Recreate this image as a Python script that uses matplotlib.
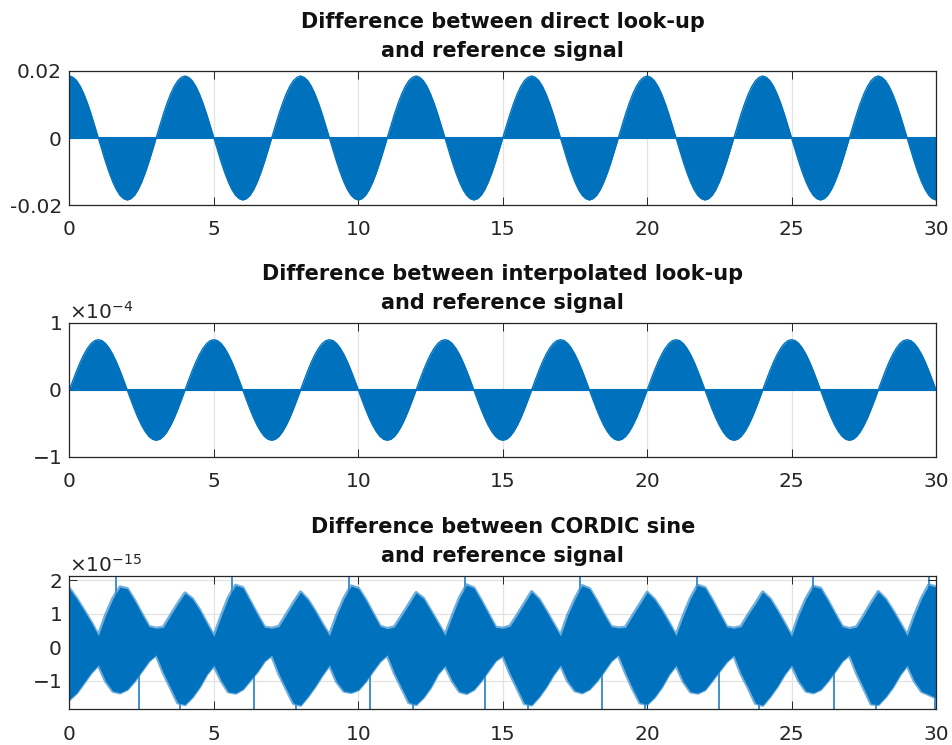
import numpy as np
import matplotlib.pyplot as plt

plt.rcParams['font.family'] = 'DejaVu Sans'
plt.rcParams['axes.unicode_minus'] = False

BLUE = '#0072BD'
EDGE = '#3f92d1'
TXT = '#262626'
GRID = '#e3e3e3'

# look-up errors, every 0.125 along x (0..30)
t_fine = np.arange(241) * 0.125
diff_direct = [
    0.0185, 0.0181, 0.0171, 0.0154, 0.0131, 0.0103, 0.0071, 0.0036, 0.0000, -0.0036, -0.0071, -0.0103, -0.0131, -0.0154, -0.0171, -0.0181,
    -0.0185, -0.0181, -0.0171, -0.0154, -0.0131, -0.0103, -0.0071, -0.0036, 0.0000, 0.0036, 0.0071, 0.0103, 0.0131, 0.0154, 0.0171, 0.0181,
    0.0185, 0.0181, 0.0171, 0.0154, 0.0131, 0.0103, 0.0071, 0.0036, 0.0000, -0.0036, -0.0071, -0.0103, -0.0131, -0.0154, -0.0171, -0.0181,
    -0.0185, -0.0181, -0.0171, -0.0154, -0.0131, -0.0103, -0.0071, -0.0036, 0.0000, 0.0036, 0.0071, 0.0103, 0.0131, 0.0154, 0.0171, 0.0181,
    0.0185, 0.0181, 0.0171, 0.0154, 0.0131, 0.0103, 0.0071, 0.0036, 0.0000, -0.0036, -0.0071, -0.0103, -0.0131, -0.0154, -0.0171, -0.0181,
    -0.0185, -0.0181, -0.0171, -0.0154, -0.0131, -0.0103, -0.0071, -0.0036, 0.0000, 0.0036, 0.0071, 0.0103, 0.0131, 0.0154, 0.0171, 0.0181,
    0.0185, 0.0181, 0.0171, 0.0154, 0.0131, 0.0103, 0.0071, 0.0036, 0.0000, -0.0036, -0.0071, -0.0103, -0.0131, -0.0154, -0.0171, -0.0181,
    -0.0185, -0.0181, -0.0171, -0.0154, -0.0131, -0.0103, -0.0071, -0.0036, 0.0000, 0.0036, 0.0071, 0.0103, 0.0131, 0.0154, 0.0171, 0.0181,
    0.0185, 0.0181, 0.0171, 0.0154, 0.0131, 0.0103, 0.0071, 0.0036, 0.0000, -0.0036, -0.0071, -0.0103, -0.0131, -0.0154, -0.0171, -0.0181,
    -0.0185, -0.0181, -0.0171, -0.0154, -0.0131, -0.0103, -0.0071, -0.0036, 0.0000, 0.0036, 0.0071, 0.0103, 0.0131, 0.0154, 0.0171, 0.0181,
    0.0185, 0.0181, 0.0171, 0.0154, 0.0131, 0.0103, 0.0071, 0.0036, 0.0000, -0.0036, -0.0071, -0.0103, -0.0131, -0.0154, -0.0171, -0.0181,
    -0.0185, -0.0181, -0.0171, -0.0154, -0.0131, -0.0103, -0.0071, -0.0036, 0.0000, 0.0036, 0.0071, 0.0103, 0.0131, 0.0154, 0.0171, 0.0181,
    0.0185, 0.0181, 0.0171, 0.0154, 0.0131, 0.0103, 0.0071, 0.0036, 0.0000, -0.0036, -0.0071, -0.0103, -0.0131, -0.0154, -0.0171, -0.0181,
    -0.0185, -0.0181, -0.0171, -0.0154, -0.0131, -0.0103, -0.0071, -0.0036, 0.0000, 0.0036, 0.0071, 0.0103, 0.0131, 0.0154, 0.0171, 0.0181,
    0.0185, 0.0181, 0.0171, 0.0154, 0.0131, 0.0103, 0.0071, 0.0036, 0.0000, -0.0036, -0.0071, -0.0103, -0.0131, -0.0154, -0.0171, -0.0181,
    -0.0185,
]
# in units of 1e-4
diff_interp = [
    0.000, 0.146, 0.287, 0.417, 0.530, 0.623, 0.693, 0.736, 0.750, 0.736, 0.693, 0.623, 0.530, 0.417, 0.287, 0.146,
    0.000, -0.146, -0.287, -0.417, -0.530, -0.623, -0.693, -0.736, -0.750, -0.736, -0.693, -0.623, -0.530, -0.417, -0.287, -0.146,
    0.000, 0.146, 0.287, 0.417, 0.530, 0.623, 0.693, 0.736, 0.750, 0.736, 0.693, 0.623, 0.530, 0.417, 0.287, 0.146,
    0.000, -0.146, -0.287, -0.417, -0.530, -0.623, -0.693, -0.736, -0.750, -0.736, -0.693, -0.623, -0.530, -0.417, -0.287, -0.146,
    0.000, 0.146, 0.287, 0.417, 0.530, 0.623, 0.693, 0.736, 0.750, 0.736, 0.693, 0.623, 0.530, 0.417, 0.287, 0.146,
    0.000, -0.146, -0.287, -0.417, -0.530, -0.623, -0.693, -0.736, -0.750, -0.736, -0.693, -0.623, -0.530, -0.417, -0.287, -0.146,
    0.000, 0.146, 0.287, 0.417, 0.530, 0.623, 0.693, 0.736, 0.750, 0.736, 0.693, 0.623, 0.530, 0.417, 0.287, 0.146,
    0.000, -0.146, -0.287, -0.417, -0.530, -0.623, -0.693, -0.736, -0.750, -0.736, -0.693, -0.623, -0.530, -0.417, -0.287, -0.146,
    0.000, 0.146, 0.287, 0.417, 0.530, 0.623, 0.693, 0.736, 0.750, 0.736, 0.693, 0.623, 0.530, 0.417, 0.287, 0.146,
    0.000, -0.146, -0.287, -0.417, -0.530, -0.623, -0.693, -0.736, -0.750, -0.736, -0.693, -0.623, -0.530, -0.417, -0.287, -0.146,
    0.000, 0.146, 0.287, 0.417, 0.530, 0.623, 0.693, 0.736, 0.750, 0.736, 0.693, 0.623, 0.530, 0.417, 0.287, 0.146,
    0.000, -0.146, -0.287, -0.417, -0.530, -0.623, -0.693, -0.736, -0.750, -0.736, -0.693, -0.623, -0.530, -0.417, -0.287, -0.146,
    0.000, 0.146, 0.287, 0.417, 0.530, 0.623, 0.693, 0.736, 0.750, 0.736, 0.693, 0.623, 0.530, 0.417, 0.287, 0.146,
    0.000, -0.146, -0.287, -0.417, -0.530, -0.623, -0.693, -0.736, -0.750, -0.736, -0.693, -0.623, -0.530, -0.417, -0.287, -0.146,
    0.000, 0.146, 0.287, 0.417, 0.530, 0.623, 0.693, 0.736, 0.750, 0.736, 0.693, 0.623, 0.530, 0.417, 0.287, 0.146,
    0.000,
]

# CORDIC error (units of 1e-15): upper/lower envelope read every 0.25
t_env = np.arange(121) * 0.25
cordic_upper = [
    1.75, 1.45, 1.10, 0.75, 0.35, 0.95, 1.45, 1.80, 1.75, 1.40, 1.00, 0.62, 0.57, 0.60, 0.95, 1.30,
    1.62, 1.45, 1.12, 0.72, 0.33, 0.92, 1.48, 1.85, 1.78, 1.38, 0.98, 0.60, 0.57, 0.62, 0.97, 1.32,
    1.65, 1.42, 1.08, 0.70, 0.35, 0.95, 1.45, 1.83, 1.76, 1.42, 1.02, 0.63, 0.56, 0.61, 0.94, 1.28,
    1.63, 1.46, 1.10, 0.73, 0.36, 0.93, 1.47, 1.86, 1.77, 1.40, 1.00, 0.60, 0.57, 0.63, 0.96, 1.31,
    1.66, 1.44, 1.09, 0.71, 0.34, 0.96, 1.44, 1.84, 1.75, 1.39, 0.99, 0.62, 0.58, 0.60, 0.95, 1.29,
    1.64, 1.43, 1.11, 0.74, 0.35, 0.94, 1.46, 1.85, 1.78, 1.41, 1.01, 0.61, 0.57, 0.62, 0.98, 1.30,
    1.65, 1.45, 1.10, 0.72, 0.33, 0.95, 1.45, 1.82, 1.76, 1.40, 1.00, 0.62, 0.56, 0.61, 0.95, 1.32,
    1.66, 1.44, 1.10, 0.73, 0.35, 0.94, 1.46, 1.86, 1.80,
]
cordic_lower = [
    -1.55, -1.35, -1.05, -0.75, -0.52, -1.00, -1.30, -1.35, -1.25, -1.00, -0.70, -0.40, -0.22, -0.75, -1.20, -1.65,
    -1.70, -1.48, -1.18, -0.80, -0.53, -0.98, -1.32, -1.36, -1.24, -0.98, -0.72, -0.40, -0.23, -0.78, -1.22, -1.66,
    -1.72, -1.46, -1.16, -0.82, -0.52, -1.02, -1.30, -1.34, -1.26, -1.01, -0.70, -0.41, -0.22, -0.76, -1.20, -1.64,
    -1.70, -1.49, -1.19, -0.79, -0.54, -0.99, -1.31, -1.37, -1.25, -0.99, -0.69, -0.39, -0.24, -0.77, -1.21, -1.67,
    -1.71, -1.47, -1.17, -0.81, -0.52, -1.00, -1.29, -1.35, -1.24, -1.00, -0.71, -0.40, -0.22, -0.75, -1.23, -1.65,
    -1.69, -1.48, -1.18, -0.80, -0.53, -1.01, -1.32, -1.36, -1.26, -0.98, -0.70, -0.42, -0.23, -0.78, -1.20, -1.66,
    -1.72, -1.46, -1.16, -0.80, -0.52, -0.99, -1.30, -1.35, -1.25, -1.00, -0.71, -0.40, -0.22, -0.76, -1.22, -1.68,
    -1.70, -1.47, -1.18, -0.81, -0.53, -1.00, -1.31, -1.40, -1.50,
]
# isolated single-sample spikes
spike_up_t = [1.62, 5.64, 9.67, 13.68, 17.69, 21.72, 25.74, 29.77]
spike_up_v = [2.14, 2.14, 2.14, 2.14, 2.14, 2.14, 2.14, 2.14]
spike_dn_t = [2.40, 3.84, 6.39, 7.84, 10.42, 11.89, 14.40, 15.88, 18.42, 19.93, 22.48, 23.87, 26.47, 27.92, 29.98]
spike_dn_v = [-1.85, -1.85, -1.85, -1.85, -1.85, -1.85, -1.85, -1.85, -1.85, -1.85, -1.85, -1.85, -1.85, -1.85, -1.85]

titles = ['Difference between direct look-up\nand reference signal',
          'Difference between interpolated look-up\nand reference signal',
          'Difference between CORDIC sine\nand reference signal']
xticks = [0, 5, 10, 15, 20, 25, 30]


def style(ax, ylim, yticks, title):
    ax.set_xlim(0, 30)
    ax.set_ylim(*ylim)
    ax.set_xticks(xticks)
    ax.set_yticks(yticks)
    for v in xticks:
        ax.axvline(v, color=GRID, lw=0.9, zorder=0)
    for v in yticks:
        ax.axhline(v, color=GRID, lw=0.9, zorder=0)
    ax.tick_params(direction='in', top=True, right=True, length=6, width=0.7,
                   colors=TXT, labelsize=14.5)
    ax.tick_params(axis='x', pad=11)
    ax.tick_params(axis='y', pad=5.5)
    for s in ax.spines.values():
        s.set_color(TXT)
        s.set_linewidth(0.9)
    ax.set_title(title, fontsize=15, fontweight='bold', color='#111111',
                 pad=10, y=1.0, linespacing=1.55)


fig = plt.figure(figsize=(9.53, 7.45), dpi=100)
ax1 = fig.add_axes([0.0729, 0.7248, 0.9093, 0.1799])
ax2 = fig.add_axes([0.0729, 0.3866, 0.9093, 0.1799])
ax3 = fig.add_axes([0.0729, 0.0477, 0.9093, 0.1796])

# direct look-up
y1 = np.array(diff_direct)
ax1.fill_between(t_fine, y1, 0, color=BLUE, lw=0, zorder=2)
ax1.plot(t_fine, y1, color=BLUE, lw=1, zorder=2)
ax1.axhline(0, color=BLUE, lw=1.5, zorder=2)
style(ax1, (-0.02, 0.02), [-0.02, 0, 0.02], titles[0])
ax1.set_yticklabels(['-0.02', '0', '0.02'])

# interpolated look-up
y2 = np.array(diff_interp) * 1e-4
ax2.fill_between(t_fine, y2, 0, color=BLUE, lw=0, zorder=2)
ax2.plot(t_fine, y2, color=BLUE, lw=1, zorder=2)
ax2.axhline(0, color=BLUE, lw=1.5, zorder=2)
style(ax2, (-1e-4, 1e-4), [-1e-4, 0, 1e-4], titles[1])
ax2.ticklabel_format(axis='y', style='sci', scilimits=(0, 0), useMathText=True)

# CORDIC: dense noise shown as its envelope with a soft edge, spikes behind
up = np.array(cordic_upper) * 1e-15
lo = np.array(cordic_lower) * 1e-15
ax3.vlines(spike_up_t, 0, np.array(spike_up_v) * 1e-15, color=EDGE, lw=1.4, zorder=1.5)
ax3.vlines(spike_dn_t, 0, np.array(spike_dn_v) * 1e-15, color=EDGE, lw=1.4, zorder=1.5)
ax3.plot(t_env, up, color=EDGE, lw=2.5, alpha=0.75, zorder=1.8)
ax3.plot(t_env, lo, color=EDGE, lw=2.5, alpha=0.75, zorder=1.8)
ax3.fill_between(t_env, lo, up, color=BLUE, lw=0, zorder=2)
style(ax3, (-1.85e-15, 2.14e-15), [-1e-15, 0, 1e-15, 2e-15], titles[2])
ax3.ticklabel_format(axis='y', style='sci', scilimits=(0, 0), useMathText=True)

for ax in (ax2, ax3):
    ax.yaxis.get_offset_text().set_fontsize(14.5)
    ax.yaxis.get_offset_text().set_color(TXT)

fig.savefig('out.png', dpi=100)
